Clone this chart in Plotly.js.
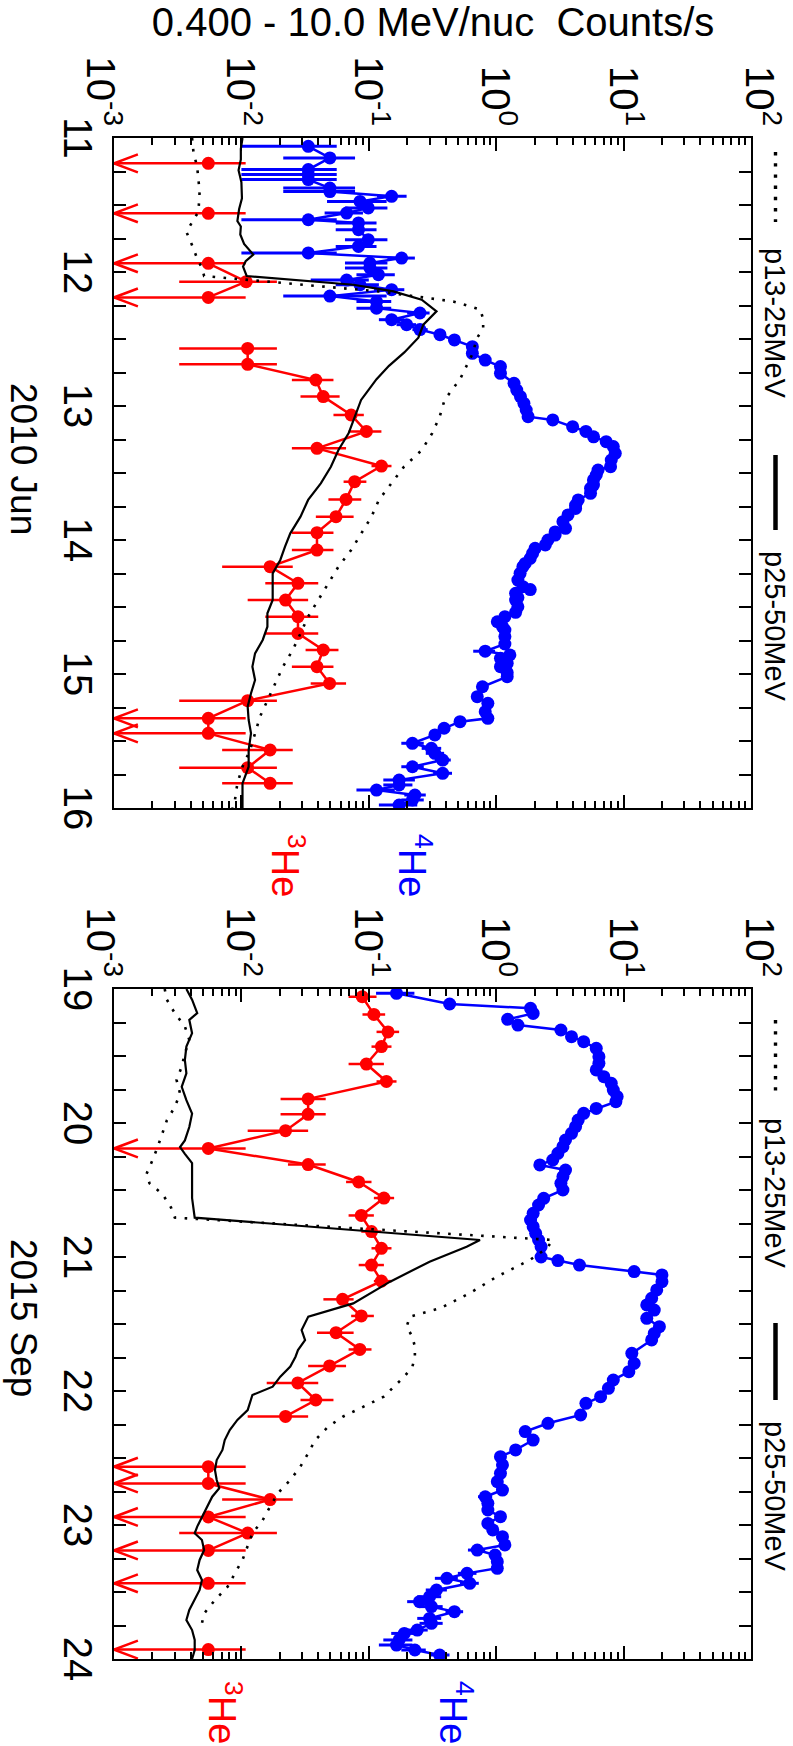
<!DOCTYPE html>
<html><head><meta charset="utf-8">
<script src="https://cdn.plot.ly/plotly-3.0.1.min.js"></script>
<style>
html,body{margin:0;padding:0;background:#fff;overflow:hidden;width:793px;height:1746px;}
#wrap{position:relative;width:793px;height:1746px;overflow:hidden;background:#fff;}
#chart{position:absolute;left:0;top:0;width:1746px;height:793px;transform-origin:0 0;}
</style></head>
<body><div id="wrap"><div id="chart"></div></div>
<script>
// ---------------- DATA ----------------
// Panel 1: 2010 June (day of month)
const junHe4Day = [11.062,11.149,11.236,11.273,11.31,11.373,11.40,11.435,11.473,11.522,11.56,11.61,11.634,11.684,11.759,11.809,11.858,11.896,11.933,11.97,12.02,12.06,12.095,12.132,12.18,12.22,12.27,12.306,12.356,12.393,12.43,12.468,12.507,12.557,12.607,12.657,12.706,12.756,12.831,12.881,12.93,12.98,13.03,13.08,13.104,13.154,13.19,13.23,13.266,13.303,13.353,13.403,13.453,13.478,13.515,13.552,13.59,13.614,13.652,13.701,13.74,13.764,13.813,13.863,13.913,13.94,13.963,14.0,14.037,14.062,14.1,14.137,14.175,14.199,14.249,14.299,14.348,14.37,14.398,14.43,14.448,14.498,14.54,14.572,14.61,14.646,14.672,14.721,14.776,14.83,14.858,14.883,14.92,14.945,14.99,15.02,15.095,15.169,15.219,15.281,15.331,15.356,15.405,15.455,15.517,15.555,15.592,15.642,15.692,15.741,15.791,15.828,15.866,15.903,15.94,15.978];
const junHe4Val = [0.0335,0.0495,0.0335,0.0335,0.0335,0.0495,0.0495,0.151,0.0853,0.099,0.067,0.0335,0.083,0.083,0.099,0.083,0.0335,0.181,0.102,0.102,0.119,0.067,0.0853,0.151,0.0495,0.115,0.115,0.252,0.151,0.198,0.252,0.362,0.47,0.65,0.65,0.82,1.08,1.08,1.38,1.45,1.55,1.65,1.72,1.78,2.78,3.98,5.06,5.81,7.3,8.3,8.6,8.0,7.9,6.3,6.1,5.8,5.8,5.5,5.5,4.4,4.2,4.2,3.66,3.34,3.5,2.9,2.9,2.55,2.43,2.02,1.93,1.85,1.69,1.62,1.54,1.48,1.62,1.85,1.42,1.48,1.42,1.48,1.42,1.17,1.02,1.12,1.17,1.17,1.17,0.82,1.28,1.08,1.22,1.08,1.22,1.22,0.78,0.71,0.86,0.82,0.86,0.52,0.39,0.33,0.22,0.31,0.33,0.38,0.22,0.38,0.173,0.173,0.115,0.23,0.22,0.173];
const junHe4BarDay = [11.062,11.149,11.236,11.273,11.31,11.373,11.40,11.435,11.473,11.522,11.56,11.61,11.634,11.684,11.759,11.809,11.858,11.896,11.933,11.97,12.02,12.06,12.095,12.132,12.18,12.22,12.27,12.306,12.356,12.393,12.43,14.83,15.517,15.555,15.592,15.642,15.692,15.741,15.791,15.828,15.866,15.903,15.94,15.978];
const junHe4BarLo = [0.01,0.0213,0.01,0.01,0.01,0.0213,0.0213,0.116,0.047,0.065,0.045,0.01,0.055,0.055,0.065,0.055,0.01,0.14,0.065,0.065,0.08,0.035,0.055,0.11,0.0213,0.08,0.08,0.2,0.12,0.165,0.22,0.66,0.18,0.26,0.28,0.33,0.18,0.32,0.13,0.13,0.08,0.19,0.18,0.12];
const junHe4BarHi = [0.056,0.078,0.056,0.056,0.056,0.078,0.078,0.198,0.138,0.14,0.09,0.056,0.115,0.115,0.14,0.115,0.056,0.23,0.14,0.14,0.16,0.1,0.12,0.19,0.138,0.15,0.15,0.3,0.19,0.235,0.29,0.98,0.27,0.37,0.39,0.44,0.27,0.45,0.23,0.22,0.16,0.28,0.27,0.24];

const junHe3Day = [11.189,11.562,11.935,12.072,12.19,12.57,12.689,12.806,12.93,13.067,13.19,13.316,13.448,13.565,13.697,13.826,13.945,14.075,14.199,14.323,14.448,14.572,14.697,14.821,14.945,15.07,15.199,15.331,15.443,15.567,15.699,15.816];
const junHe3Val = [0.0055,0.0055,0.0055,0.0109,0.0055,0.0112,0.0112,0.0384,0.0439,0.0727,0.0957,0.0392,0.1256,0.0774,0.0663,0.0553,0.0392,0.0392,0.0168,0.0278,0.0222,0.0278,0.0278,0.0439,0.0392,0.0492,0.0112,0.0055,0.0055,0.0168,0.0112,0.0168];
const junHe3Lo = [null,null,null,0.00325,null,0.00325,0.00325,0.0249,0.0291,0.0528,0.0694,0.0249,0.105,0.0634,0.0482,0.0384,0.0249,0.0249,0.00706,0.0154,0.0112,0.0154,0.0154,0.0319,0.0249,0.035,0.00325,null,null,0.00706,0.00325,0.00706];
const junHe3Hi = [0.0108,0.0108,0.0108,0.019,0.0108,0.019,0.019,0.0528,0.059,0.0914,0.1256,0.0663,0.1507,0.0957,0.0873,0.076,0.0528,0.0528,0.0253,0.0401,0.0334,0.0401,0.0401,0.0578,0.0528,0.0663,0.019,0.0108,0.0108,0.0253,0.019,0.0253];
const junHe3Limit = [1,1,1,0,1,0,0,0,0,0,0,0,0,0,0,0,0,0,0,0,0,0,0,0,0,0,0,1,1,0,0,0];

const junP13Day = [11.0,11.1,11.22,11.4,11.55,11.7,11.8,11.9,11.97,12.03,12.145,12.22,12.28,12.35,12.42,12.5,12.6,12.7,12.8,12.955,13.08,13.204,13.328,13.453,13.577,13.701,13.826,13.95,14.075,14.199,14.323,14.448,14.572,14.697,14.821,14.945,15.07,15.194,15.318,15.443,15.567,15.692,15.816,15.94,16.0];
const junP13Val = [0.0041,0.0042,0.0045,0.0047,0.0046,0.0037,0.0041,0.0045,0.0049,0.0051,0.12,0.46,0.75,0.79,0.79,0.7,0.66,0.59,0.52,0.393,0.36,0.314,0.261,0.189,0.151,0.12,0.105,0.087,0.0727,0.0578,0.0482,0.0401,0.0334,0.0291,0.0253,0.0212,0.0184,0.016,0.014,0.0128,0.0117,0.0102,0.0093,0.0089,0.0085];
const junP25Day = [11.0,11.08,11.16,11.24,11.33,11.45,11.53,11.62,11.66,11.72,11.79,11.87,11.92,11.96,12.03,12.095,12.145,12.207,12.293,12.393,12.49,12.6,12.7,12.8,12.9,12.955,13.104,13.204,13.328,13.453,13.577,13.701,13.826,13.95,14.05,14.149,14.249,14.348,14.448,14.547,14.647,14.746,14.846,14.945,15.045,15.144,15.244,15.343,15.443,15.567,15.692,15.816,15.94,16.0];
const junP25Val = [0.0102,0.0099,0.0099,0.0095,0.01,0.0101,0.0096,0.0093,0.0099,0.0098,0.0105,0.0124,0.0108,0.0103,0.011,0.0757,0.156,0.26,0.34,0.268,0.245,0.19,0.144,0.115,0.096,0.087,0.076,0.0694,0.0578,0.0504,0.042,0.0334,0.0291,0.0242,0.022,0.0202,0.0176,0.0176,0.0176,0.016,0.016,0.0147,0.0128,0.0122,0.0128,0.0119,0.0112,0.0114,0.0119,0.0114,0.0114,0.0102,0.0102,0.0102];

// Panel 2: 2015 September
const sepHe4Day = [19.032,19.112,19.144,19.182,19.226,19.269,19.306,19.356,19.393,19.443,19.505,19.555,19.604,19.654,19.704,19.754,19.803,19.841,19.891,19.928,19.978,20.027,20.077,20.127,20.177,20.226,20.276,20.313,20.351,20.4,20.45,20.5,20.562,20.612,20.674,20.724,20.774,20.823,20.873,20.923,21.0,21.027,21.06,21.109,21.134,21.184,21.246,21.308,21.358,21.396,21.458,21.52,21.57,21.619,21.719,21.794,21.856,21.918,21.98,22.042,22.092,22.179,22.241,22.303,22.366,22.44,22.49,22.552,22.614,22.677,22.739,22.789,22.838,22.888,22.938,22.988,23.037,23.087,23.149,23.187,23.224,23.274,23.323,23.361,23.398,23.435,23.485,23.535,23.572,23.609,23.647,23.697,23.734,23.784,23.809,23.858,23.896,23.933,23.97];
const sepHe4Val = [0.165,0.431,1.86,1.95,1.23,1.48,3.22,3.9,4.86,6.1,6.4,6.4,6.1,7.0,8.0,8.3,8.9,8.7,6.1,4.86,4.4,4.2,3.9,3.5,3.34,3.05,2.78,2.2,3.5,3.34,3.22,3.34,2.36,2.15,1.95,1.86,1.95,2.04,2.15,2.25,2.25,3.05,4.5,12.1,20.0,20.0,18.2,16.6,15.2,17.4,15.2,19.1,17.4,16.6,11.6,12.1,11.0,8.3,7.6,6.6,5.06,4.6,2.55,1.69,1.95,1.42,1.08,1.12,1.08,1.02,1.12,0.82,0.86,0.86,1.08,0.86,0.94,1.12,1.17,0.71,0.98,1.02,1.02,0.59,0.41,0.62,0.34,0.30,0.25,0.31,0.47,0.30,0.31,0.24,0.19,0.173,0.165,0.23,0.36];
const sepHe4BarDay = [19.032,22.789,23.187,23.361,23.398,23.435,23.485,23.535,23.572,23.609,23.647,23.697,23.734,23.784,23.809,23.858,23.896,23.933,23.97];
const sepHe4BarLo = [0.114,0.72,0.6,0.5,0.33,0.52,0.28,0.24,0.2,0.25,0.4,0.24,0.25,0.19,0.15,0.13,0.12,0.18,0.3];
const sepHe4BarHi = [0.228,0.93,0.82,0.7,0.5,0.73,0.41,0.37,0.31,0.38,0.55,0.37,0.38,0.29,0.24,0.22,0.22,0.28,0.43];

const sepHe3Day = [19.057,19.19,19.32,19.43,19.56,19.69,19.82,19.935,20.057,20.19,20.31,20.44,20.56,20.69,20.81,20.935,21.06,21.18,21.316,21.44,21.565,21.69,21.813,21.94,22.067,22.19,22.565,22.69,22.81,22.94,23.06,23.19,23.435,23.93];
const sepHe3Val = [0.0888,0.1096,0.1415,0.1256,0.0957,0.1375,0.0334,0.0334,0.0222,0.0055,0.0334,0.0833,0.1314,0.0873,0.105,0.1256,0.105,0.1256,0.0622,0.0873,0.0553,0.085,0.0492,0.0277,0.0384,0.0222,0.0055,0.0055,0.0168,0.0055,0.0112,0.0055,0.0055,0.0055];
const sepHe3Lo = [0.0694,0.0892,0.115,0.105,0.0694,0.115,0.0203,0.0203,0.0112,null,0.0232,0.0663,0.1096,0.0694,0.0873,0.105,0.0833,0.1096,0.044,0.0727,0.0392,0.0694,0.0334,0.0158,0.0291,0.0112,null,null,0.00706,null,0.00325,null,null,null];
const sepHe3Hi = [0.115,0.1344,0.173,0.1507,0.1314,0.165,0.0459,0.0459,0.0334,0.0108,0.0459,0.105,0.158,0.1096,0.1256,0.1507,0.1314,0.1507,0.076,0.1096,0.076,0.105,0.0663,0.0401,0.0528,0.0334,0.0108,0.0108,0.0253,0.0108,0.019,0.0108,0.0108,0.0108];
const sepHe3Limit = [0,0,0,0,0,0,0,0,0,1,0,0,0,0,0,0,0,0,0,0,0,0,0,0,0,0,1,1,0,1,0,1,1,1];

const sepP13Day = [19.0,19.08,19.18,19.28,19.38,19.48,19.58,19.68,19.78,19.88,19.98,20.08,20.18,20.28,20.38,20.45,20.53,20.63,20.706,20.873,20.935,21.022,21.147,21.27,21.383,21.445,21.52,21.595,21.67,21.744,21.818,21.893,21.968,22.042,22.117,22.19,22.266,22.366,22.465,22.565,22.664,22.764,22.863,22.963,23.062,23.162,23.261,23.36,23.46,23.56,23.66,23.734];
const sepP13Val = [0.0025,0.0026,0.003,0.0036,0.0039,0.0036,0.0034,0.0031,0.0033,0.003,0.0026,0.0024,0.0022,0.002,0.0018,0.0019,0.0024,0.0028,0.003,2.79,2.49,1.84,1.01,0.62,0.362,0.21,0.198,0.22,0.23,0.23,0.22,0.19,0.158,0.131,0.091,0.063,0.048,0.038,0.0334,0.029,0.0242,0.0193,0.0168,0.0147,0.0122,0.0112,0.0102,0.0089,0.0078,0.0062,0.0051,0.0049];
const sepP25Day = [19.0,19.08,19.18,19.23,19.33,19.43,19.53,19.63,19.73,19.83,19.93,20.03,20.13,20.18,20.23,20.3,20.43,20.56,20.706,20.873,20.923,21.035,21.184,21.346,21.445,21.545,21.62,21.694,21.744,21.818,21.893,21.968,22.03,22.092,22.142,22.216,22.291,22.366,22.44,22.515,22.59,22.664,22.726,22.789,22.863,22.938,23.012,23.062,23.112,23.187,23.261,23.336,23.41,23.485,23.56,23.634,23.709,23.784,23.858,23.933,24.0];
const sepP25Val = [0.0037,0.0041,0.0045,0.0039,0.0041,0.0037,0.0036,0.0037,0.0034,0.0037,0.0041,0.0039,0.0036,0.0033,0.0036,0.0041,0.0041,0.0041,0.0043,0.746,0.586,0.30,0.147,0.0755,0.0335,0.0297,0.0316,0.0278,0.0266,0.0242,0.0202,0.0176,0.0122,0.0117,0.0112,0.0093,0.0081,0.0074,0.0071,0.0064,0.0062,0.0064,0.0067,0.0059,0.0054,0.0049,0.0045,0.0043,0.0049,0.0051,0.0047,0.0045,0.0049,0.0047,0.0043,0.0039,0.0037,0.0041,0.0043,0.0043,0.0041];

// Axis ticks / labels
const dayRangeJun = [11, 16];
const dayRangeSep = [19, 24];
const yTickVals = [0.01, 0.1, 1, 10];
const yTickText = ['10<sup>-2</sup>', '10<sup>-1</sup>', '10<sup>0</sup>', '10<sup>1</sup>'];
const yLowVal = [0.001], yLowText = ['10<sup>-3</sup>'];
const yHighVal = [100], yHighText = ['10<sup>2</sup>'];
const panelTitles = ['2010 Jun', '2015 Sep'];
const legendNames = ['p13-25MeV', 'p25-50MeV'];
const yTitle = '0.400 - 10.0 MeV/nuc\u00a0 Counts/s';

// ---------------- DRAWING ----------------
const W = 1746, H = 793;
const FONT = 'Liberation Sans, Arial, Helvetica, sans-serif';
const BLUE = '#0000ff', RED = '#ff0000';
const YMIN = 0.001;
const px = v => v / W, py = v => 1 - v / H;

function panelTraces(xa, ya, he4Day, he4Val, barDay, barLo, barHi, he3Day, he3Val, he3Lo, he3Hi, he3Lim, p13Day, p13Val, p25Day, p25Val) {
  const tr = [];
  const up4 = [], dn4 = [];
  he4Day.forEach((d, i) => {
    const j = barDay.indexOf(d);
    if (j >= 0) { up4.push(barHi[j] - he4Val[i]); dn4.push(he4Val[i] - barLo[j]); }
    else { up4.push(0); dn4.push(0); }
  });
  tr.push({type: 'scatter', mode: 'lines+markers', x: he4Day, y: he4Val, xaxis: xa, yaxis: ya,
    line: {color: BLUE, width: 2.5}, marker: {color: BLUE, size: 13},
    error_y: {type: 'data', symmetric: false, array: up4, arrayminus: dn4, color: BLUE, thickness: 3, width: 0},
    hoverinfo: 'skip'});
  const lx = [], ly = [];
  he3Day.forEach((d, i) => {
    if (i > 0 && d - he3Day[i - 1] > 0.2) { lx.push(null); ly.push(null); }
    lx.push(d); ly.push(he3Val[i]);
  });
  tr.push({type: 'scatter', mode: 'lines', x: lx, y: ly, xaxis: xa, yaxis: ya,
    line: {color: RED, width: 2.5}, hoverinfo: 'skip'});
  const up3 = he3Val.map((v, i) => he3Hi[i] - v);
  const dn3 = he3Val.map((v, i) => he3Lim[i] ? v - YMIN : v - he3Lo[i]);
  tr.push({type: 'scatter', mode: 'markers', x: he3Day, y: he3Val, xaxis: xa, yaxis: ya,
    marker: {color: RED, size: 13},
    error_y: {type: 'data', symmetric: false, array: up3, arrayminus: dn3, color: RED, thickness: 2.5, width: 0},
    hoverinfo: 'skip'});
  const ax = [], ay = [];
  he3Day.forEach((d, i) => {
    if (he3Lim[i]) { ax.push(d - 0.067, d, d + 0.067, null); ay.push(YMIN * 1.54, YMIN, YMIN * 1.54, null); }
  });
  tr.push({type: 'scatter', mode: 'lines', x: ax, y: ay, xaxis: xa, yaxis: ya,
    line: {color: RED, width: 2.5}, hoverinfo: 'skip', cliponaxis: false});
  tr.push({type: 'scatter', mode: 'lines', x: p13Day, y: p13Val, xaxis: xa, yaxis: ya,
    line: {color: 'black', width: 2.6, dash: '2.6px,8.4px'}, hoverinfo: 'skip'});
  tr.push({type: 'scatter', mode: 'lines', x: p25Day, y: p25Val, xaxis: xa, yaxis: ya,
    line: {color: 'black', width: 2.2}, hoverinfo: 'skip'});
  return tr;
}

const labelAxes = [['x', 'y3'], ['x', 'y4'], ['x', 'y5'], ['x2', 'y6'], ['x2', 'y7'], ['x2', 'y8']];
const traces = [].concat(
  panelTraces('x', 'y', junHe4Day, junHe4Val, junHe4BarDay, junHe4BarLo, junHe4BarHi, junHe3Day, junHe3Val, junHe3Lo, junHe3Hi, junHe3Limit, junP13Day, junP13Val, junP25Day, junP25Val),
  panelTraces('x2', 'y2', sepHe4Day, sepHe4Val, sepHe4BarDay, sepHe4BarLo, sepHe4BarHi, sepHe3Day, sepHe3Val, sepHe3Lo, sepHe3Hi, sepHe3Limit, sepP13Day, sepP13Val, sepP25Day, sepP25Val),
  labelAxes.map(p => ({type: 'scatter', mode: 'markers', x: [], y: [], xaxis: p[0], yaxis: p[1], hoverinfo: 'skip'}))
);

const tickFont = {family: FONT, size: 40, color: 'black'};
const frame = {showline: true, linecolor: 'black', linewidth: 2, mirror: 'allticks', ticks: 'inside',
  tickcolor: 'black', tickwidth: 2, showgrid: false, zeroline: false, tickfont: tickFont, fixedrange: true};
function xAxis(dom, rng, yname) {
  return Object.assign({}, frame, {domain: dom, range: rng, anchor: yname, tick0: rng[0], dtick: 1, ticklen: 12,
    ticklabelstandoff: 0,
    minor: {dtick: 0.25, ticklen: 6, tickwidth: 2, tickcolor: 'black', ticks: 'inside'}});
}
const yDom = [1 - 679 / H, 1 - 42 / H];
function yAxis(xname) {
  return Object.assign({}, frame, {domain: yDom, type: 'log', range: [-3, 2], anchor: xname,
    tickmode: 'array', tickvals: yTickVals, ticktext: yTickText, ticklen: 13, showticklabels: false,
    minor: {dtick: 'D1', ticklen: 7, tickwidth: 2, tickcolor: 'black', ticks: 'inside'}});
}
// label-only overlay axes (labels of the log axis, with end labels nudged inward)
function yLabels(over, xname, vals, text, shift) {
  return {overlaying: over, anchor: xname, type: 'log', range: [-3, 2], tickmode: 'array', tickvals: vals, ticktext: text,
    showline: true, linecolor: 'rgba(0,0,0,0)', linewidth: 2, ticks: '',
    showgrid: false, zeroline: false, tickfont: tickFont, ticklabelstandoff: 2, ticklabelshift: shift, fixedrange: true};
}

const annFont = (size, color) => ({family: FONT, size: size, color: color || 'black'});
const ann = (text, x, y, xa, ya, size, color, angle) => ({text: text, xref: 'paper', yref: 'paper', x: px(x), y: py(y),
  xanchor: xa, yanchor: ya, showarrow: false, borderpad: 0, font: annFont(size, color), textangle: angle || 0});

const annotations = [
  ann(yTitle, 44.7, 359.5, 'right', 'middle', 40, 'black', -90),
  ann(panelTitles[0], 459, 791, 'center', 'bottom', 37),
  ann(panelTitles[1], 1318, 791, 'center', 'bottom', 37),
  ann('<sup>4</sup>He', 833, 403, 'left', 'bottom', 38, BLUE),
  ann('<sup>3</sup>He', 833, 530, 'left', 'bottom', 38, RED),
  ann('<sup>4</sup>He', 1680, 362, 'left', 'bottom', 38, BLUE),
  ann('<sup>3</sup>He', 1680, 593, 'left', 'bottom', 38, RED),
  ann(legendNames[0], 247, 0.5, 'left', 'top', 29),
  ann(legendNames[1], 550, 0.5, 'left', 'top', 29),
  ann(legendNames[0], 1117, 0.5, 'left', 'top', 29),
  ann(legendNames[1], 1420, 0.5, 'left', 'top', 29)
];
const lgLine = (x0, x1, dash, w) => ({type: 'line', xref: 'paper', yref: 'paper', x0: px(x0), x1: px(x1), y0: py(17.5), y1: py(17.5),
  line: {color: 'black', width: w, dash: dash}});
const shapes = [
  lgLine(152, 222, '3.4px,7.8px', 3.4), lgLine(455, 530, 'solid', 4.5),
  lgLine(1020, 1092, '3.4px,7.8px', 3.4), lgLine(1323, 1400, 'solid', 4.5)
];

const layout = {
  width: W, height: H, margin: {l: 0, r: 0, t: 0, b: 0, pad: 0},
  paper_bgcolor: 'white', plot_bgcolor: 'white', showlegend: false,
  font: {family: FONT, color: 'black'},
  xaxis: xAxis([138 / W, 808 / W], dayRangeJun, 'y'),
  xaxis2: xAxis([989 / W, 1659 / W], dayRangeSep, 'y2'),
  yaxis: yAxis('x'),
  yaxis2: yAxis('x2'),
  yaxis3: yLabels('y', 'x', yTickVals, yTickText, 0),
  yaxis4: yLabels('y', 'x', yLowVal, yLowText, 13),
  yaxis5: yLabels('y', 'x', yHighVal, yHighText, -9),
  yaxis6: yLabels('y2', 'x2', yTickVals, yTickText, 0),
  yaxis7: yLabels('y2', 'x2', yLowVal, yLowText, 13),
  yaxis8: yLabels('y2', 'x2', yHighVal, yHighText, -9),
  annotations: annotations, shapes: shapes
};

const el = document.getElementById('chart');
Plotly.newPlot(el, traces, layout, {staticPlot: true, displayModeBar: false}).then(() => {
  el.style.transform = 'translate(793px,0px) rotate(90deg)';
});
</script>
</body></html>
